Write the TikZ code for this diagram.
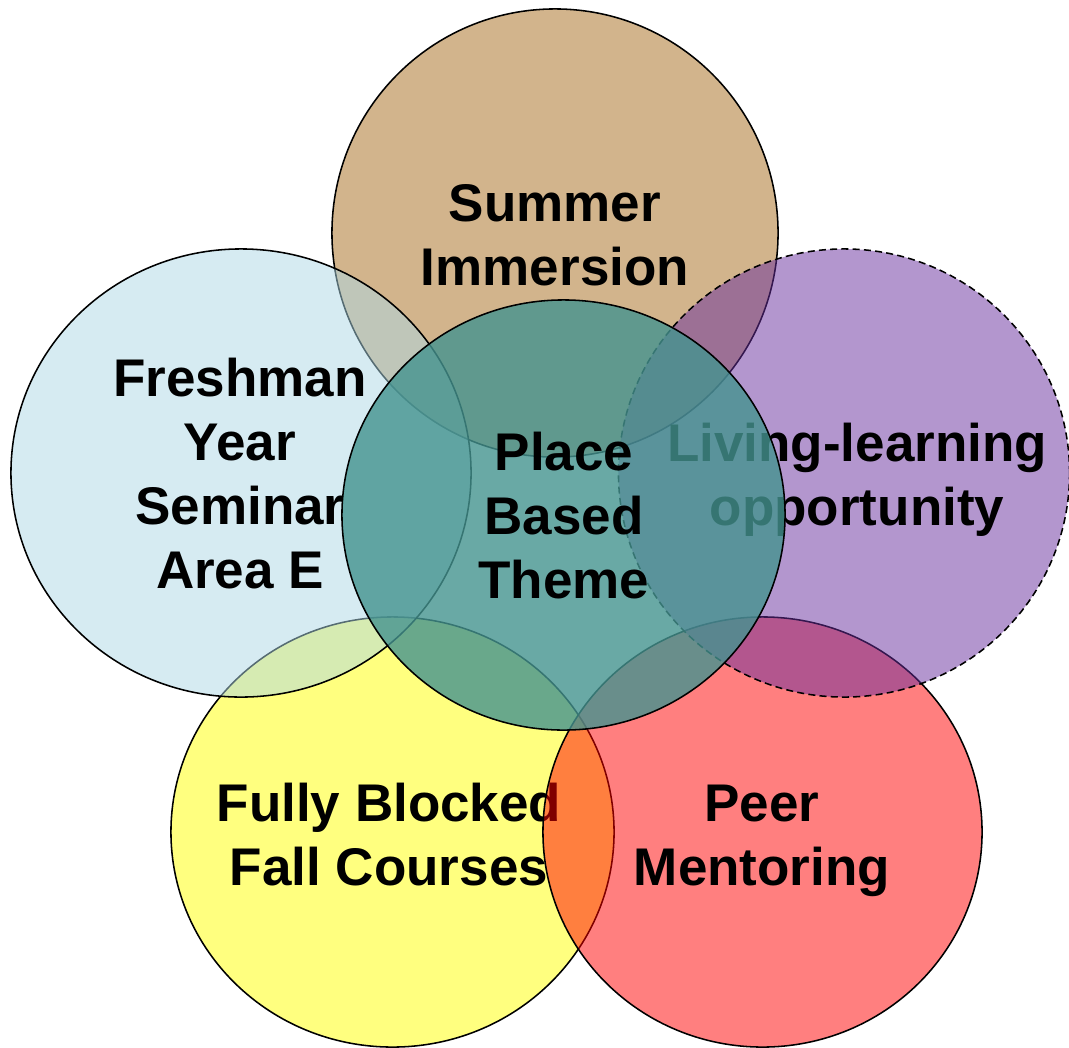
\documentclass[tikz,border=0pt]{standalone}
\usepackage{fontspec}
\setmainfont{Liberation Sans}
\usetikzlibrary{shapes.geometric}

\definecolor{summerc}{RGB}{210,180,140}
\definecolor{freshc}{RGB}{173,216,230}
\definecolor{livingc}{RGB}{104,46,158}
\definecolor{fallc}{RGB}{255,255,0}
\definecolor{peerc}{RGB}{255,0,0}
\definecolor{placec}{RGB}{68,147,143}

\begin{document}
\begin{tikzpicture}[
        x=0.025cm, y=-0.025cm, % 1 unit = 1 pixel of the sketch
        blob/.style={ellipse, draw=black, line width=1.1pt, inner sep=0pt}, % circles
        txt/.style={font=\bfseries\fontsize{37.7}{45.5}\selectfont, align=center, anchor=base}, % labels, base = last line
    ]
    \useasboundingbox (0,0) rectangle (1069,1047);

    % bottom row first
    \node[blob, fill=fallc, fill opacity=0.5, minimum width=11.075cm, minimum height=10.75cm] (fall) at (392.5,832) {};
    \node[txt] (fallT) at (389,885) {Fully Blocked\\Fall Courses};

    \node[blob, fill=peerc, fill opacity=0.5, minimum width=10.975cm, minimum height=10.75cm] (peer) at (762.5,832) {};
    \node[txt] (peerT) at (762,885) {Peer\\Mentoring};

    % top and sides
    \node[blob, fill=summerc, minimum width=11.15cm, minimum height=11.2cm] (summer) at (555,233) {};
    \node[txt] (summerT) at (555,285) {Summer\\Immersion};

    \node[blob, fill=freshc, fill opacity=0.5, minimum width=11.5cm, minimum height=11.2cm] (fresh) at (241,473) {};
    \node[txt] (freshT) at (240,588) {Freshman\\Year\\Seminar\\Area E};

    \node[blob, fill=livingc, fill opacity=0.5, dash pattern=on 5pt off 3pt, minimum width=11.275cm, minimum height=11.2cm] (living) at (844,473) {};
    \node[txt] (livingT) at (857,525) {Living-learning\\opportunity};

    % centre circle on top
    \node[blob, fill=placec, fill opacity=0.8, minimum width=11.075cm, minimum height=10.75cm] (place) at (563.5,515) {};
    \node[txt] (placeT) at (564,598) {Place\\Based\\Theme};
\end{tikzpicture}
\end{document}
